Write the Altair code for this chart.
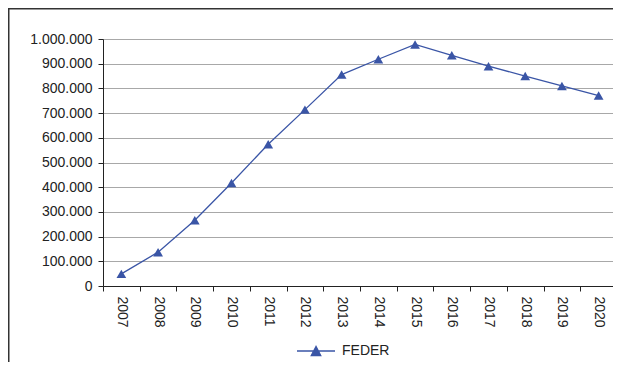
import altair as alt
import pandas as pd

years = ["2007", "2008", "2009", "2010", "2011", "2012", "2013",
         "2014", "2015", "2016", "2017", "2018", "2019", "2020"]
feder = [49000, 137000, 266000, 417000, 574000, 714000, 856000,
         918000, 978000, 934000, 890000, 850000, 810000, 771000]
series = ["FEDER"] * len(years)
y_ticks = [0, 100000, 200000, 300000, 400000, 500000, 600000,
           700000, 800000, 900000, 1000000]

df = pd.DataFrame({"year": years, "value": feder, "series": series})

BLUE = "#3a55a6"
FONT = "Liberation Sans"
TXT = "#222222"

x_enc = alt.X(
    "year:O",
    sort=years,
    scale=alt.Scale(type="band", paddingInner=0, paddingOuter=0),
    bandPosition=0.5,
    axis=alt.Axis(
        title=None, labelAngle=90, tickBand="extent", grid=False,
        labelFont=FONT, labelFontSize=14, labelColor=TXT,
        tickSize=5, tickColor="#222", domainColor="#222",
        labelPadding=5,
    ),
)
y_enc = alt.Y(
    "value:Q",
    scale=alt.Scale(domain=[0, 1000000], nice=False),
    axis=alt.Axis(
        title=None, values=y_ticks,
        labelExpr="replace(format(datum.value, ','), /,/g, '.')",
        labelFont=FONT, labelFontSize=14, labelColor=TXT,
        tickSize=5, tickColor="#222", domainColor="#222",
        gridColor="#a8a8a8", gridWidth=1, labelPadding=6,
    ),
)

legend_path = "M-3.8,0H3.8M0,-0.9L-0.95,0.9L0.95,0.9Z"

line = alt.Chart(df).mark_line(strokeWidth=1.3).encode(
    x=x_enc, y=y_enc,
    color=alt.Color(
        "series:N",
        scale=alt.Scale(domain=["FEDER"], range=[BLUE]),
        legend=alt.Legend(
            title=None, orient="none", legendX=206, legendY=305,
            symbolType=legend_path, symbolSize=100,
            symbolFillColor=BLUE, symbolStrokeColor=BLUE,
            symbolStrokeWidth=1.3, labelOffset=19,
            labelFont=FONT, labelFontSize=14, labelColor=TXT,
        ),
    ),
)

points = alt.Chart(df).mark_point(
    shape="triangle-up", filled=True, size=95, opacity=1, color=BLUE
).encode(x=x_enc, y=y_enc)

frame_df = pd.DataFrame({"k": [0]})
frame_left = alt.Chart(frame_df).mark_rule(color="#333", strokeWidth=2).encode(
    x=alt.value(-94.5), y=alt.value(-40), y2=alt.value(400)
)
frame_top = alt.Chart(frame_df).mark_rule(color="#333", strokeWidth=2).encode(
    y=alt.value(-30.5), x=alt.value(-100), x2=alt.value(700)
)

chart = alt.layer(frame_left, frame_top, line, points).properties(
    width=514, height=247,
    autosize=alt.AutoSizeParams(type="none"),
    padding={"left": 95, "top": 31, "right": -4, "bottom": 76},
).configure_view(stroke=None).configure(background="white")

chart.save("out.html", embed_options={"renderer": "svg", "actions": False})
